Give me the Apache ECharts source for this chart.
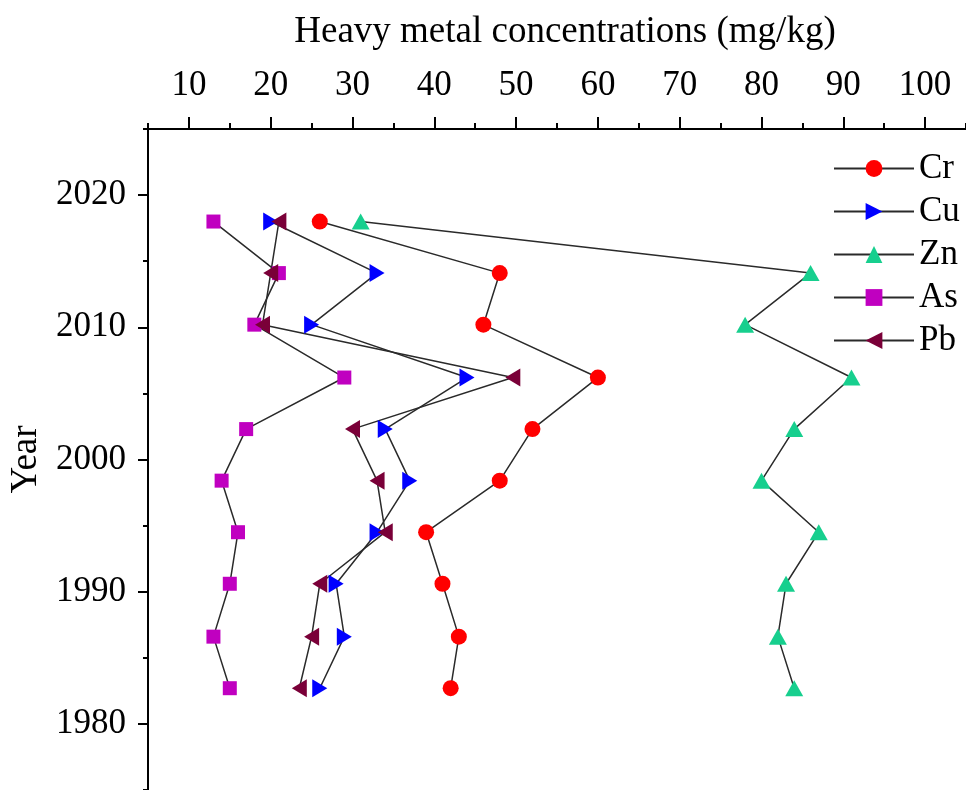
<!DOCTYPE html>
<html>
<head>
<meta charset="utf-8">
<script src="https://cdn.jsdelivr.net/npm/echarts@6/dist/echarts.min.js"></script>
<style>
  html, body { margin: 0; padding: 0; background: #fff; }
  #main { width: 966px; height: 790px; }
</style>
</head>
<body>
<div id="main"></div>
<script>
// core depth -> year
var years = [2018, 2014.1, 2010.2, 2006.2, 2002.3, 1998.4, 1994.5, 1990.6, 1986.6, 1982.7];

var cr = [26, 48, 46, 60, 52, 48, 39, 41, 43, 42];
var cu = [20, 33, 25, 44, 34, 37, 33, 28, 29, 26];
var zn = [31, 86, 78, 91, 84, 80, 87, 83, 82, 84];
var as = [13, 21, 18, 29, 17, 14, 16, 15, 13, 15];
var pb = [21, 20, 19, 49.6, 30, 33, 34, 26, 25, 23.5];

var xMajor = [10, 20, 30, 40, 50, 60, 70, 80, 90, 100];
var xMinor = [5, 15, 25, 35, 45, 55, 65, 75, 85, 95, 105];
var yMajor = [1980, 1990, 2000, 2010, 2020];
var yMinor = [1975, 1985, 1995, 2005, 2015, 2025];

var FONT = 'Liberation Serif';

function pairs(vals) {
	var out = [];
	for (var i = 0; i < vals.length; i++) {
		out.push([vals[i], years[i]]);
	}
	return out;
}

function mkSeries(name, vals, symbol, size, color) {
	return {
		name: name,
		type: 'line',
		data: pairs(vals),
		symbol: symbol,
		symbolSize: size,
		showSymbol: true,
		lineStyle: { color: '#2a2a2a', width: 1.5 },
		itemStyle: { color: color, opacity: 1 },
		emphasis: { disabled: true }
	};
}

var myChart = echarts.init(document.getElementById('main'));

var option = {
	animation: false,
	backgroundColor: '#fff',
	textStyle: { fontFamily: FONT },
	grid: { left: 148, top: 129, width: 831, height: 667 },
	legend: {
		orient: 'vertical',
		left: 828,
		top: 146,
		itemWidth: 80,
		itemHeight: 21,
		itemGap: 8,
		textStyle: { fontFamily: FONT, fontSize: 35, color: '#000' },
		data: ['Cr', 'Cu', 'Zn', 'As', 'Pb']
	},
	xAxis: [
		{
			type: 'value',
			position: 'top',
			min: 5,
			max: 105,
			name: 'Heavy metal concentrations (mg/kg)',
			nameLocation: 'middle',
			nameGap: 78,
			nameTextStyle: { fontFamily: FONT, fontSize: 37, color: '#000', padding: [0, 0, 0, 16] },
			axisLine: { show: true, lineStyle: { color: '#000', width: 2 } },
			axisTick: { show: true, customValues: xMajor, length: 12, inside: false, lineStyle: { color: '#000', width: 2 } },
			axisLabel: { customValues: xMajor, margin: 26, fontFamily: FONT, fontSize: 35, color: '#000' },
			splitLine: { show: false }
		},
		{
			type: 'value',
			position: 'top',
			min: 5,
			max: 105,
			axisLine: { show: false },
			axisTick: { show: true, customValues: xMinor, length: 6, lineStyle: { color: '#000', width: 2 } },
			axisLabel: { show: false },
			splitLine: { show: false }
		}
	],
	yAxis: [
		{
			type: 'value',
			position: 'left',
			min: 1975,
			max: 2025,
			name: 'Year',
			nameLocation: 'middle',
			nameGap: 100,
			nameRotate: 90,
			nameTextStyle: { fontFamily: FONT, fontSize: 37, color: '#000' },
			axisLine: { show: true, lineStyle: { color: '#000', width: 2 } },
			axisTick: { show: true, customValues: yMajor, length: 10, lineStyle: { color: '#000', width: 2 } },
			axisLabel: {
				customValues: yMajor, margin: 22, fontFamily: FONT, fontSize: 35, color: '#000',
				formatter: function (v) { return String(v); }
			},
			splitLine: { show: false }
		},
		{
			type: 'value',
			position: 'left',
			min: 1975,
			max: 2025,
			axisLine: { show: false },
			axisTick: { show: true, customValues: yMinor, length: 5, lineStyle: { color: '#000', width: 2 } },
			axisLabel: { show: false },
			splitLine: { show: false }
		}
	],
	series: [
		mkSeries('Cr', cr, 'circle', 16, '#ff0000'),
		mkSeries('Cu', cu, 'path://M0,0L10,5L0,10Z', [15, 18], '#0000ff'),
		mkSeries('Zn', zn, 'triangle', [18, 16], '#17cf8e'),
		mkSeries('As', as, 'rect', 14, '#c000c0'),
		mkSeries('Pb', pb, 'path://M10,0L0,5L10,10Z', [15, 18], '#7a0038')
	]
};

myChart.setOption(option);
</script>
</body>
</html>
